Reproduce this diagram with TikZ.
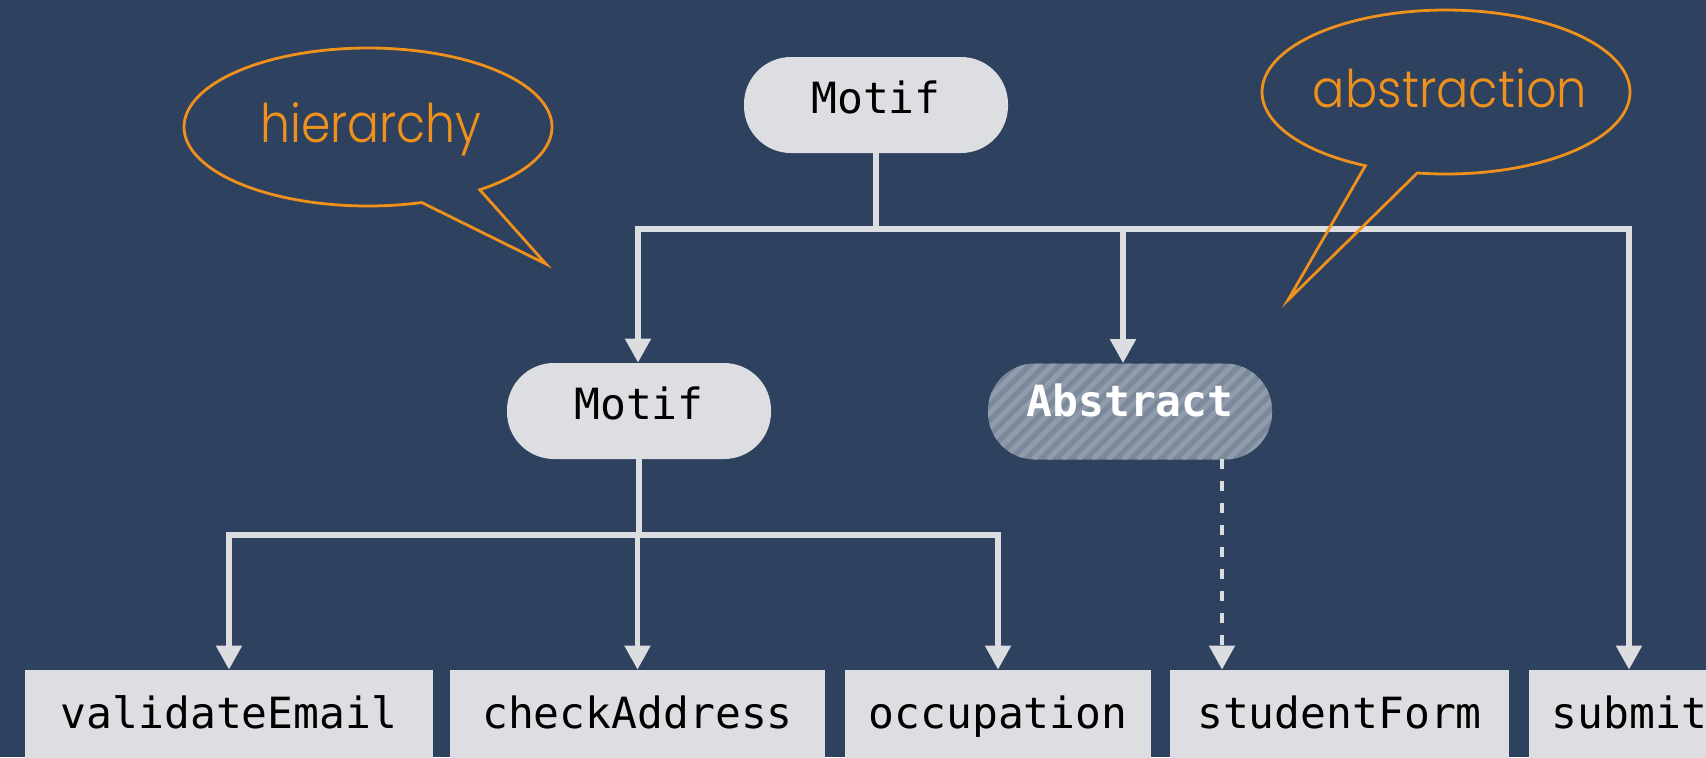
\documentclass[tikz,border=0pt]{standalone}
\usepackage{fontspec}
\usepackage{graphicx}
\usetikzlibrary{arrows.meta}
\newfontfamily\codefont{DejaVu Sans Mono}
\newfontfamily\callfont{Poppins Light}
\definecolor{bgblue}{RGB}{46,65,95}
\definecolor{boxgray}{RGB}{221,222,225}
\definecolor{linegray}{RGB}{220,221,224}
\definecolor{absfill}{RGB}{124,137,154}
\definecolor{absstripe}{RGB}{144,155,171}
\definecolor{callorange}{RGB}{240,145,28}
\begin{document}
\begin{tikzpicture}[x=0.5pt,y=-0.5pt,
  codetext/.style={font={\codefont\fontsize{21.5pt}{24pt}\selectfont}, text=black},
  pill/.style={codetext, fill=boxgray, rounded corners=23.5pt, minimum width=132pt,
    minimum height=48pt, inner sep=0pt, text height=12pt, text depth=4pt},
  abspill/.style={pill, minimum width=142pt, fill=absfill, text=white,
    font={\codefont\bfseries\fontsize{21.5pt}{24pt}\selectfont},
    text height=11pt, text depth=6pt,
    path picture={\foreach \k in {-8,...,20}{\draw[absstripe, line width=2.6pt]
      ([xshift=\k*7.5pt]path picture bounding box.south west) -- ++(60pt,60pt);}}},
  leafbox/.style={codetext, fill=boxgray, inner sep=0pt, minimum height=58pt,
    text height=8pt, text depth=8pt},
  conn/.style={draw=linegray, line width=2.6pt},
  busline/.style={conn, line cap=rect},
  arr/.style={conn, -{Triangle[width=12.5pt,length=12pt]}},
  dasharr/.style={arr, line width=2.3pt, dash pattern=on 5pt off 6pt},
  callout/.style={draw=callorange, line width=1.4pt},
  calltext/.style={text=callorange, inner sep=0pt}
]
\useasboundingbox (0,0) rectangle (1706,757);
\fill[bgblue] (0,0) rectangle (1706,757);

% nodes
\node[pill] (motifT) at (876,105) {Motif};
\node[pill] (motifM) at (639,411) {Motif};
\node[abspill] (abstract) at (1130,411.5) {Abstract};

\node[leafbox, minimum width=204pt] (validate) at (229,728) {validateEmail};
\node[leafbox, minimum width=187.5pt] (checkaddr) at (637.5,728) {checkAddress};
\node[leafbox, minimum width=153pt] (occupation) at (998,728) {occupation};
\node[leafbox, minimum width=169.5pt] (studentform) at (1339.5,728) {studentForm};
\node[leafbox, minimum width=100.5pt] (submit) at (1629.5,728) {submit};

% junction coordinates
\coordinate (bus1L) at (638,229);
\coordinate (bus1R) at (1629,229);
\coordinate (absx) at (1123,229);
\coordinate (bus2L) at (229,535);
\coordinate (bus2R) at (998,535);
\coordinate (dashx) at (1222,459);

% connectors
\draw[conn] (motifT.south) -- (motifT.south |- bus1L);
\draw[busline] (bus1L) -- (bus1R);
\draw[arr] (bus1L) -- (bus1L |- motifM.north);
\draw[arr] (absx) -- (absx |- abstract.north);
\draw[arr] (bus1R) -- (bus1R |- submit.north);

\draw[conn] (motifM.south) -- (motifM.south |- bus2L);
\draw[busline] (bus2L) -- (bus2R);
\draw[arr] (bus2L) -- (bus2L |- validate.north);
\draw[arr] (checkaddr.north |- bus2L) -- (checkaddr.north);
\draw[arr] (bus2R) -- (bus2R |- occupation.north);

\draw[dasharr] (dashx) -- (dashx |- studentform.north);

% callouts
\draw[callout, line join=miter, miter limit=20]
  plot[domain=73:412.6, samples=140] ({368+184*cos(\x)},{127+79*sin(\x)})
  -- (546,264) -- cycle;
\node[calltext, anchor=base] (hiertext) at (371,142)
  {\resizebox{110.5pt}{20pt}{\callfont hierarchy}};

\draw[callout, line join=miter, miter limit=20]
  plot[domain=116:459, samples=140] ({1446+184*cos(\x)},{92+82*sin(\x)})
  -- (1288,300) -- cycle;
\node[calltext, anchor=base] (abstext) at (1450,107)
  {\resizebox{137pt}{19.5pt}{\callfont abstraction}};
\end{tikzpicture}
\end{document}
